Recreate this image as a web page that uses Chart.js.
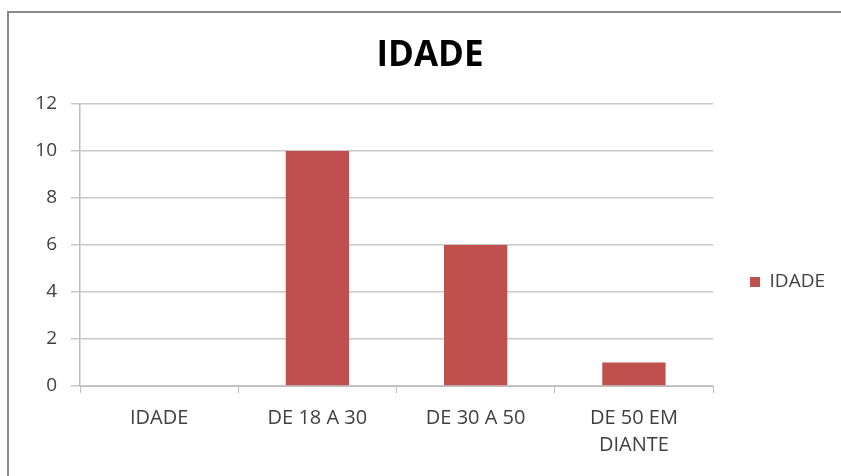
<!DOCTYPE html>
<html>
<head>
<meta charset="utf-8">
<script src="https://cdn.jsdelivr.net/npm/chart.js@4.4.1/dist/chart.umd.min.js"></script>
<style>
  html, body { margin: 0; padding: 0; background: #fff; overflow: hidden; }
  body { width: 841px; height: 476px; position: relative; }
  #frame { position: absolute; left: 7px; top: 11px; width: 900px; height: 700px; border-left: 2px solid #8a8a8a; border-top: 2px solid #8a8a8a; }
  #wrap { position: absolute; left: 0; top: 0; width: 841px; height: 564px; }
</style>
</head>
<body>
<div id="frame"></div>
<div id="wrap"><canvas id="chart" width="841" height="564"></canvas></div>
<script>
const categories = ['IDADE', 'DE 18 A 30', 'DE 30 A 50', ['DE 50 EM', 'DIANTE']];
const seriesName = 'IDADE';
const idadeValues = [0, 10, 6, 1];
const yTicks = [0, 2, 4, 6, 8, 10, 12];

const ctx = document.getElementById('chart').getContext('2d');
const FONT = "'Open Sans', 'Noto Sans', sans-serif";

new Chart(ctx, {
    type: 'bar',
    data: {
        labels: categories,
        datasets: [
            {
                label: seriesName,
                data: idadeValues,
                backgroundColor: '#C0504D',
                borderWidth: 0,
                categoryPercentage: 1,
                barPercentage: 0.4
            }
        ]
    },
    options: {
        responsive: false,
        animation: false,
        layout: {
            padding: { left: 25, right: 6, top: 0, bottom: 0 }
        },
        plugins: {
            title: {
                display: true,
                text: 'IDADE',
                color: '#000',
                font: { family: FONT, size: 35, weight: 'bold' },
                padding: { top: 35, bottom: 27 }
            },
            legend: {
                position: 'right',
                align: 'center',
                labels: {
                    boxWidth: 10,
                    boxHeight: 10,
                    padding: 37,
                    color: '#404040',
                    font: { family: FONT, size: 19 }
                }
            },
            tooltip: { enabled: false }
        },
        scales: {
            x: {
                grid: {
                    offset: true,
                    drawOnChartArea: false,
                    drawTicks: true,
                    tickLength: 7,
                    color: '#bdbdbd'
                },
                border: { color: '#bdbdbd', width: 1 },
                ticks: {
                    color: '#404040',
                    padding: 12,
                    maxRotation: 0,
                    font: { family: FONT, size: 20, lineHeight: 1.35 }
                },
                afterFit: (scale) => { scale.height = 178; }
            },
            y: {
                min: 0,
                max: 12,
                afterBuildTicks: (scale) => { scale.ticks = yTicks.map(v => ({ value: v })); },
                grid: {
                    color: '#c8c8c8',
                    lineWidth: 1.5,
                    drawTicks: true,
                    tickLength: 9
                },
                border: { color: '#bdbdbd', width: 1.5 },
                ticks: {
                    color: '#404040',
                    padding: 14,
                    font: { family: FONT, size: 19 }
                },
                afterFit: (scale) => { scale.width = 55; }
            }
        }
    }
});
</script>
</body>
</html>
